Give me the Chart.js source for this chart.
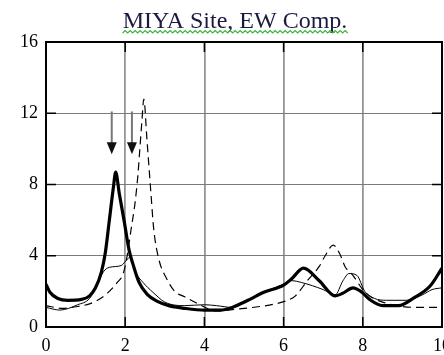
<!DOCTYPE html>
<html>
<head>
<meta charset="utf-8">
<script src="https://cdn.jsdelivr.net/npm/chart.js@4"></script>
<style>
  html, body { margin: 0; padding: 0; background: #fff; }
  #wrap { width: 444px; height: 355px; }
</style>
</head>
<body>
<div id="wrap"><canvas id="myChart" width="444" height="355"></canvas></div>
<script>
// frequency (x) / amplitude (y)
const thickX = [0, 0.1, 0.3, 0.55, 0.9, 1.1, 1.25, 1.4, 1.5, 1.6, 1.7, 1.76, 1.85, 1.97, 2.1, 2.2, 2.35, 2.55, 2.8, 3.1, 3.5, 4.0, 4.4, 4.7, 5.1, 5.5, 6.0, 6.2, 6.5, 6.9, 7.3, 7.5, 7.75, 7.95, 8.2, 8.5, 8.9, 9.3, 9.7, 10.0];
const thickY = [2.4, 1.95, 1.6, 1.5, 1.55, 1.75, 2.2, 3.1, 4.2, 6.0, 7.8, 8.7, 7.5, 6.0, 4.3, 3.5, 2.5, 1.85, 1.45, 1.2, 1.05, 0.95, 0.95, 1.1, 1.5, 1.95, 2.35, 2.7, 3.3, 2.6, 1.75, 1.9, 2.2, 2.0, 1.5, 1.2, 1.2, 1.65, 2.3, 3.3];

const thinX = [0, 0.35, 0.8, 1.1, 1.3, 1.45, 1.6, 1.9, 2.05, 2.12, 2.25, 2.45, 2.7, 3.0, 3.5, 4.0, 4.3, 4.7, 5.1, 5.5, 6.0, 6.2, 6.45, 7.0, 7.3, 7.5, 7.65, 7.85, 8.05, 8.3, 8.6, 9.1, 9.5, 9.75, 10.0];
const thinY = [1.1, 0.95, 1.25, 1.6, 2.4, 3.1, 3.35, 3.45, 3.8, 3.9, 3.1, 2.5, 1.95, 1.4, 1.2, 1.25, 1.2, 1.1, 1.5, 1.95, 2.4, 2.6, 2.5, 2.1, 1.8, 2.6, 3.0, 2.9, 2.0, 1.6, 1.5, 1.5, 1.8, 2.1, 2.2];

const dashX = [0, 0.4, 0.8, 1.1, 1.3, 1.55, 1.8, 1.95, 2.05, 2.15, 2.25, 2.32, 2.37, 2.42, 2.47, 2.55, 2.6, 2.65, 2.72, 2.85, 3.05, 3.25, 3.5, 3.8, 4.3, 4.8, 5.4, 5.8, 6.1, 6.3, 6.6, 6.9, 7.05, 7.25, 7.42, 7.55, 7.75, 8.0, 8.2, 8.5, 9.0, 9.5, 10.0];
const dashY = [1.2, 1.05, 1.15, 1.3, 1.5, 1.9, 2.5, 3.0, 4.0, 5.5, 7.0, 8.5, 10.0, 11.5, 12.8, 10.5, 9.0, 7.5, 5.5, 3.8, 2.7, 2.0, 1.7, 1.35, 0.9, 1.0, 1.15, 1.3, 1.5, 1.75, 2.6, 3.4, 4.0, 4.6, 4.1, 3.4, 2.9, 2.1, 1.7, 1.4, 1.15, 1.1, 1.1];

const xTicks = [0, 2, 4, 6, 8, 10];
const yTicks = [0, 4, 8, 12, 16];

// the two arrows marking the peaks
const arrowX = [1.66, 2.17];
const arrowTop = 12.1;
const arrowTip = 9.7;

const titleText = 'MIYA Site, EW Comp.';

function toPoints(xs, ys) {
    let pts = [];
    for (let i = 0; i < xs.length; i++) {
        pts.push({ x: xs[i], y: ys[i] });
    }
    return pts;
}

// frame, inner tick marks, arrows and the green squiggle under the title
const extras = {
    id: 'extras',
    afterLayout(chart) {
        // title sits a little right of the canvas centre in the original
        chart.titleBlock.left += 28;
    },
    afterDatasetsDraw(chart) {
        const ctx = chart.ctx;
        const a = chart.chartArea;
        const xs = chart.scales.x, ys = chart.scales.y;
        ctx.save();
        // arrows
        for (let i = 0; i < arrowX.length; i++) {
            const px = xs.getPixelForValue(arrowX[i]);
            const pTop = ys.getPixelForValue(arrowTop);
            const pTip = ys.getPixelForValue(arrowTip);
            ctx.strokeStyle = '#777';
            ctx.lineWidth = 2;
            ctx.beginPath();
            ctx.moveTo(px, pTop);
            ctx.lineTo(px, pTip - 8);
            ctx.stroke();
            ctx.fillStyle = '#111';
            ctx.beginPath();
            ctx.moveTo(px - 5, pTip - 12);
            ctx.lineTo(px + 5, pTip - 12);
            ctx.lineTo(px, pTip);
            ctx.closePath();
            ctx.fill();
        }
        // inner ticks
        ctx.strokeStyle = '#000';
        ctx.lineWidth = 1.5;
        const tl = 10;
        xTicks.slice(1, -1).forEach(v => {
            const px = xs.getPixelForValue(v);
            ctx.beginPath();
            ctx.moveTo(px, a.top); ctx.lineTo(px, a.top + tl);
            ctx.moveTo(px, a.bottom); ctx.lineTo(px, a.bottom - tl);
            ctx.stroke();
        });
        yTicks.slice(1, -1).forEach(v => {
            const py = ys.getPixelForValue(v);
            ctx.beginPath();
            ctx.moveTo(a.left, py); ctx.lineTo(a.left + tl, py);
            ctx.moveTo(a.right, py); ctx.lineTo(a.right - tl, py);
            ctx.stroke();
        });
        // frame
        ctx.lineWidth = 2;
        ctx.strokeRect(a.left, a.top, a.right - a.left, a.bottom - a.top);
        ctx.restore();
    },
    afterDraw(chart) {
        const ctx = chart.ctx;
        const tb = chart.titleBlock;
        ctx.save();
        ctx.font = '24px "Liberation Serif", "Times New Roman", serif';
        const w = ctx.measureText(titleText).width;
        const cx = (tb.left + tb.right) / 2;
        let x = cx - w / 2, y = 33;
        ctx.strokeStyle = '#3bb33b';
        ctx.lineWidth = 1.2;
        ctx.beginPath();
        ctx.moveTo(x, y);
        let up = true;
        while (x < cx + w / 2) {
            x += 2.5;
            ctx.lineTo(x, up ? y - 2.5 : y);
            up = !up;
        }
        ctx.stroke();
        ctx.restore();
    }
};

const ctx = document.getElementById('myChart').getContext('2d');
const myChart = new Chart(ctx, {
    type: 'line',
    data: {
        datasets: [
            {
                label: 'thick',
                data: toPoints(thickX, thickY),
                borderColor: '#000',
                borderWidth: 3.2,
                pointRadius: 0,
                cubicInterpolationMode: 'monotone',
                order: 0
            },
            {
                label: 'thin',
                data: toPoints(thinX, thinY),
                borderColor: '#000',
                borderWidth: 1,
                pointRadius: 0,
                cubicInterpolationMode: 'monotone',
                order: 1
            },
            {
                label: 'dashed',
                data: toPoints(dashX, dashY),
                borderColor: '#000',
                borderWidth: 1.2,
                borderDash: [8, 5],
                pointRadius: 0,
                cubicInterpolationMode: 'monotone',
                order: 2
            }
        ]
    },
    options: {
        responsive: false,
        animation: false,
        layout: { padding: { left: 0, right: 2, top: 0, bottom: 0 } },
        plugins: {
            legend: { display: false },
            tooltip: { enabled: false },
            title: {
                display: true,
                text: titleText,
                color: '#1a1a40',
                font: { family: '"Liberation Serif", "Times New Roman", serif', size: 24, weight: 'normal', lineHeight: '26px' },
                padding: { top: 9, bottom: 7 }
            }
        },
        scales: {
            x: {
                type: 'linear',
                min: 0,
                max: 10,
                afterBuildTicks: s => { s.ticks = xTicks.map(v => ({ value: v })); },
                afterFit: s => { s.height = 28; s.paddingLeft = 0; s.paddingRight = 0; },
                grid: {
                    drawTicks: false,
                    color: c => (c.tick.value === 0 || c.tick.value === 10) ? 'rgba(0,0,0,0)' : '#959595',
                    lineWidth: 1.8
                },
                border: { display: false },
                ticks: {
                    padding: 8,
                    color: '#000',
                    maxRotation: 0,
                    font: { family: '"Liberation Serif", "Times New Roman", serif', size: 18 }
                }
            },
            y: {
                min: 0,
                max: 16,
                afterBuildTicks: s => { s.ticks = yTicks.map(v => ({ value: v })); },
                afterFit: s => { s.width = 46; s.paddingTop = 0; s.paddingBottom = 0; },
                grid: {
                    drawTicks: false,
                    color: c => (c.tick.value === 0 || c.tick.value === 16) ? 'rgba(0,0,0,0)' : '#7a7a7a',
                    lineWidth: 1
                },
                border: { display: false },
                ticks: {
                    padding: 8,
                    color: '#000',
                    font: { family: '"Liberation Serif", "Times New Roman", serif', size: 18 }
                }
            }
        }
    },
    plugins: [extras]
});
</script>
</body>
</html>
